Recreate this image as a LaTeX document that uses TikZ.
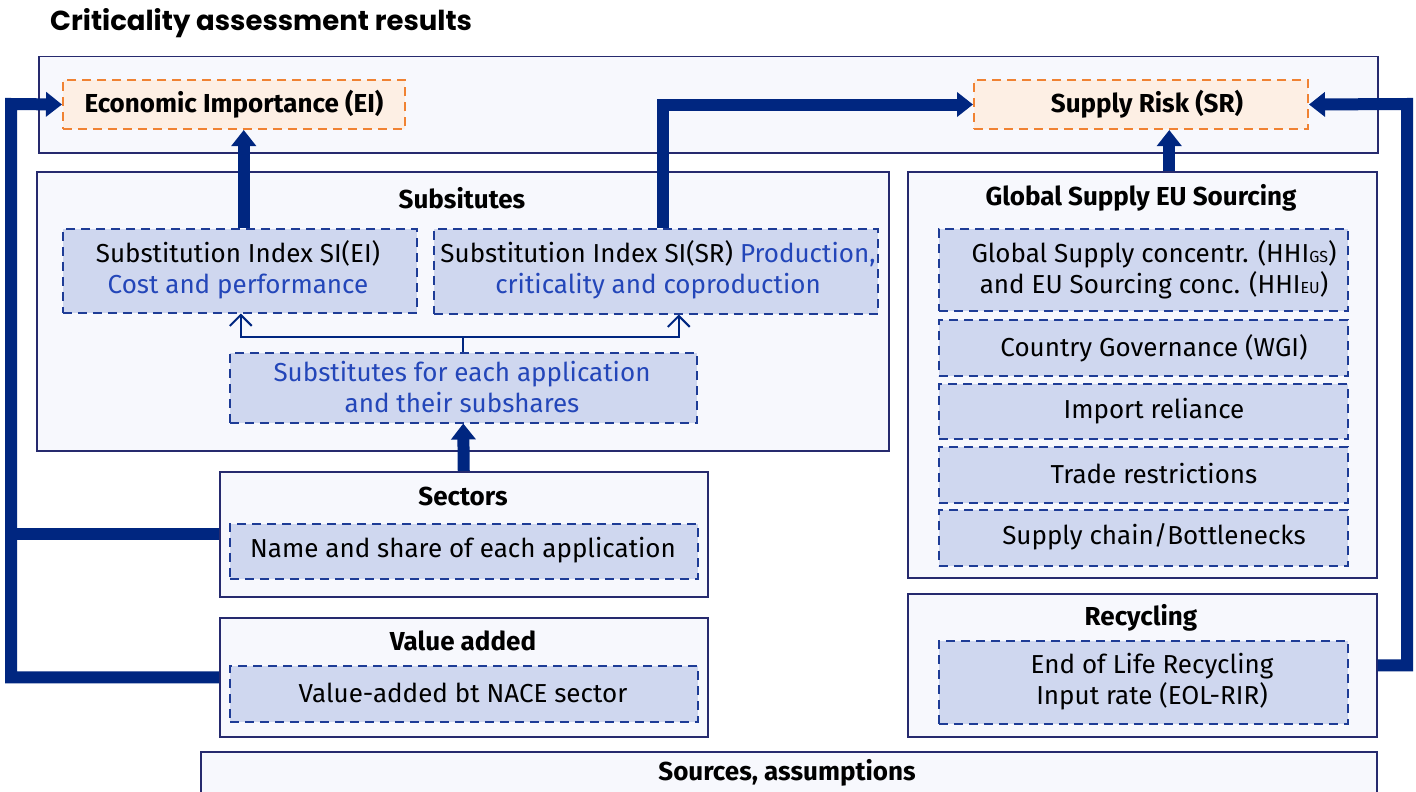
\documentclass[tikz,border=0pt]{standalone}
\usepackage{fontspec}
\setmainfont{Fira Sans}
\newfontfamily\titlefont{Poppins}
\usetikzlibrary{arrows.meta,calc}
\definecolor{panelfill}{RGB}{247,248,253}
\definecolor{paneldraw}{RGB}{38,42,110}
\definecolor{itemfill}{RGB}{207,215,239}
\definecolor{itemdraw}{RGB}{30,60,150}
\definecolor{orfill}{RGB}{253,239,228}
\definecolor{ordraw}{RGB}{240,130,50}
\definecolor{conn}{RGB}{0,38,128}
\definecolor{bluetxt}{RGB}{35,70,185}
\tikzset{
  panel/.style={draw=paneldraw, fill=panelfill, line width=1.5pt, inner sep=0pt, anchor=north west},
  item/.style={draw=itemdraw, fill=itemfill, line width=1.5pt, dash pattern=on 9pt off 6pt, inner sep=0pt, anchor=north west},
  hl/.style={draw=ordraw, fill=orfill, line width=2pt, dash pattern=on 9pt off 6pt, inner sep=0pt, anchor=north west},
  head/.style={font=\bfseries\fontsize{26}{30}\selectfont, inner sep=0pt},
  txt/.style={font=\fontsize{26}{31}\selectfont, align=center, inner sep=0pt},
  bigarrow/.style={draw=conn, line width=12pt, line join=miter, -{Triangle[length=16pt,width=24pt]}},
  bigline/.style={draw=conn, line width=12pt, line join=miter},
  thinarrow/.style={draw=conn, line width=2pt, -{Straight Barb[length=11pt,width=22pt]}}
}
\newcommand{\sbs}[1]{{\fontsize{16}{16}\selectfont #1}}
\begin{document}
\begin{tikzpicture}[x=1pt,y=-1pt]
\clip (0,0) rectangle (1416,792);
\fill[white] (0,0) rectangle (1416,792);
% title
\node[anchor=west, inner sep=0pt, font=\titlefont\bfseries\fontsize{27.5}{32}\selectfont] (title) at (50,23) {Criticality assessment results};
% panels
\node[panel, minimum width=1339pt, minimum height=96pt] (top) at (38,56) {};
\node[panel, minimum width=852pt, minimum height=279pt] (subs) at (36,171) {};
\node[panel, minimum width=469pt, minimum height=406pt] (glob) at (907,171) {};
\node[panel, minimum width=488pt, minimum height=125pt] (sect) at (219,471) {};
\node[panel, minimum width=488pt, minimum height=119pt] (va) at (219,617) {};
\node[panel, minimum width=469pt, minimum height=143pt] (rec) at (907,593) {};
\node[panel, minimum width=1176pt, minimum height=60pt] (src) at (200,751) {};
% panel headings
\node[head] (subsT) at (462,198) {Subsitutes};
\node[head] (globT) at (1141,198) {Global Supply EU Sourcing};
\node[head] (sectT) at (463,496) {Sectors};
\node[head] (vaT) at (463,641) {Value added};
\node[head] (recT) at (1141,618) {Recycling};
\node[head] (srcT) at (787,773) {Sources, assumptions};
% result boxes
\node[hl, minimum width=342pt, minimum height=49pt] (ei) at (62,79) {};
\node[head] (eiT) at (234,104) {Economic Importance (EI)};
\node[hl, minimum width=334pt, minimum height=49pt] (sr) at (973,79) {};
\node[head] (srT) at (1147,104) {Supply Risk (SR)};
% substitutes items
\node[item, minimum width=354pt, minimum height=84pt] (siei) at (62,228) {};
\node[txt] (sieiT) at (238,270) {Substitution Index SI(EI)\\\textcolor{bluetxt}{Cost and performance}};
\node[item, minimum width=444pt, minimum height=85pt] (sisr) at (433,228) {};
\node[txt] (sisrT) at (658,270) {Substitution Index SI(SR) \textcolor{bluetxt}{Production,}\\\textcolor{bluetxt}{criticality and coproduction}};
\node[item, minimum width=467pt, minimum height=70pt] (subsfor) at (229,352) {};
\node[txt, text=bluetxt] (subsforT) at (462,387) {Substitutes for each application\\and their subshares};
% global supply items
\node[item, minimum width=409pt, minimum height=82pt] (g1) at (938,228) {};
\node[txt] (g1T) at (1154,270) {Global Supply concentr. (HHI\sbs{GS})\\and EU Sourcing conc. (HHI\sbs{EU})};
\node[item, minimum width=409pt, minimum height=56pt] (g2) at (938,319) {};
\node[txt] (g2T) at (1154,348) {Country Governance (WGI)};
\node[item, minimum width=409pt, minimum height=55pt] (g3) at (938,383) {};
\node[txt] (g3T) at (1154,411) {Import reliance};
\node[item, minimum width=409pt, minimum height=56pt] (g4) at (938,446) {};
\node[txt] (g4T) at (1154,474) {Trade restrictions};
\node[item, minimum width=409pt, minimum height=56pt] (g5) at (938,509) {};
\node[txt] (g5T) at (1154,537) {Supply chain/Bottlenecks};
% sectors, value added, recycling items
\node[item, minimum width=468pt, minimum height=55pt] (name) at (229,523) {};
\node[txt] (nameT) at (463,550) {Name and share of each application};
\node[item, minimum width=468pt, minimum height=56pt] (vad) at (229,665) {};
\node[txt] (vadT) at (463,693) {Value-added bt NACE sector};
\node[item, minimum width=409pt, minimum height=83pt] (eol) at (938,640) {};
\node[txt] (eolT) at (1152,682) {End of Life Recycling\\Input rate (EOL-RIR)};
% connectors
\coordinate (lturn) at (11,104);
\coordinate (rturn) at (1407,104);
\draw[bigarrow] ([xshift=4pt]siei.north) -- ([xshift=4pt]siei.north |- ei.south);
\draw[bigarrow] ([xshift=7pt]sisr.north) |- (sr.west);
\draw[bigarrow] ([xshift=27pt]glob.north) -- ([xshift=27pt]glob.north |- sr.south);
\draw[bigarrow] (rec.east) -| (rturn) -- (sr.east);
\draw[bigarrow] (va.west) -| (lturn) -- (ei.west);
\draw[bigline] (sect.west) -- (sect.west -| lturn);
\draw[bigarrow] (sect.north) -- (subsfor.south);
\draw[thinarrow] (subsfor.north) -- ($(subsfor.north)+(0,-15)$) -| ([xshift=1pt]siei.south);
\draw[thinarrow] ($(subsfor.north)+(0,-15)$) -| ([xshift=23pt]sisr.south);
\end{tikzpicture}
\end{document}
